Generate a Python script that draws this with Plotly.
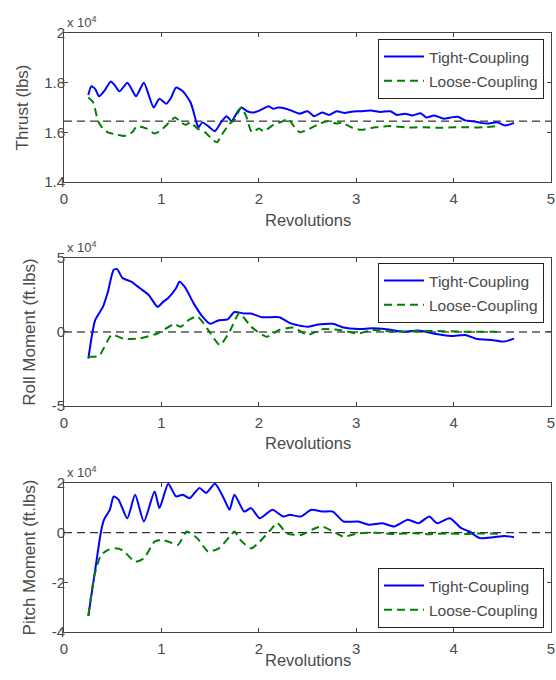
import plotly.graph_objects as go

# ---------------- data (values in units of 10^4) ----------------
thrust_tight_x = [0.25, 0.28, 0.32, 0.36, 0.42, 0.48, 0.52, 0.57, 0.65, 0.70, 0.74, 0.82, 0.87, 0.92, 0.98, 1.05, 1.10, 1.15,
                  1.22, 1.30, 1.36, 1.38, 1.42, 1.48, 1.55, 1.62, 1.67, 1.72, 1.77, 1.82, 1.88, 1.95, 2.02, 2.10, 2.15, 2.20,
                  2.28, 2.35, 2.42, 2.50, 2.57, 2.65, 2.72, 2.80, 2.88, 2.95, 3.05, 3.15, 3.25, 3.35, 3.42, 3.50, 3.58,
                  3.66, 3.72, 3.80, 3.90, 3.97, 4.05, 4.12, 4.20, 4.28, 4.35, 4.45, 4.52, 4.58, 4.62]
thrust_tight_y = [1.75, 1.785, 1.775, 1.745, 1.77, 1.805, 1.79, 1.765, 1.80, 1.77, 1.745, 1.80, 1.75, 1.70, 1.735, 1.715, 1.74, 1.78,
                  1.765, 1.72, 1.64, 1.62, 1.64, 1.625, 1.605, 1.645, 1.665, 1.645, 1.675, 1.70, 1.685, 1.68, 1.69, 1.705, 1.695, 1.70,
                  1.695, 1.685, 1.675, 1.685, 1.665, 1.68, 1.67, 1.685, 1.678, 1.683, 1.685, 1.688, 1.682, 1.685, 1.67, 1.675, 1.668,
                  1.677, 1.66, 1.668, 1.655, 1.66, 1.662, 1.648, 1.645, 1.638, 1.635, 1.64, 1.628, 1.632, 1.638]

thrust_loose_x = [0.25, 0.30, 0.35, 0.40, 0.45, 0.55, 0.62, 0.70, 0.75, 0.85, 0.93, 1.00, 1.08, 1.14, 1.20, 1.25, 1.30, 1.37,
                  1.45, 1.50, 1.57, 1.62, 1.70, 1.75, 1.82, 1.87, 1.93, 2.00, 2.05, 2.15, 2.25, 2.30, 2.35, 2.42, 2.50, 2.60,
                  2.70, 2.80, 2.85, 2.95, 3.05, 3.20, 3.35, 3.50, 3.70, 3.85, 4.00, 4.15, 4.30, 4.45]
thrust_loose_y = [1.74, 1.72, 1.645, 1.615, 1.60, 1.59, 1.585, 1.60, 1.625, 1.615, 1.595, 1.61, 1.64, 1.66, 1.64, 1.63, 1.64, 1.615,
                  1.60, 1.58, 1.56, 1.59, 1.635, 1.65, 1.70, 1.665, 1.60, 1.615, 1.605, 1.63, 1.645, 1.655, 1.63, 1.60, 1.61, 1.63,
                  1.645, 1.635, 1.64, 1.62, 1.61, 1.62, 1.625, 1.62, 1.62, 1.618, 1.62, 1.62, 1.62, 1.625]
thrust_ref = 1.645

roll_tight_x = [0.25, 0.32, 0.40, 0.45, 0.51, 0.545, 0.60, 0.69, 0.78, 0.87, 0.96, 1.02, 1.07, 1.15, 1.185, 1.24, 1.33, 1.42,
                1.50, 1.59, 1.68, 1.75, 1.85, 1.92, 2.03, 2.21, 2.32, 2.50, 2.61, 2.76, 2.87, 3.02, 3.17, 3.31, 3.50, 3.64,
                3.79, 3.97, 4.12, 4.23, 4.41, 4.52, 4.62]
roll_tight_y = [-1.8, 0.8, 1.7, 2.7, 4.2, 4.25, 3.65, 3.4, 2.95, 2.5, 1.7, 2.05, 2.3, 2.95, 3.4, 3.05, 1.95, 1.05,
                0.55, 0.8, 0.85, 1.35, 1.25, 1.25, 1.0, 1.0, 0.6, 0.35, 0.5, 0.55, 0.3, 0.2, 0.25, 0.18, 0.02, 0.1,
                -0.1, -0.27, -0.2, -0.45, -0.55, -0.65, -0.45]

roll_loose_x = [0.25, 0.36, 0.49, 0.62, 0.78, 0.96, 1.13, 1.20, 1.28, 1.37, 1.48, 1.60, 1.70, 1.80, 1.92, 2.08, 2.21, 2.36,
                2.50, 2.65, 2.83, 3.02, 3.17, 3.39, 3.76, 4.12, 4.50]
roll_loose_y = [-1.67, -1.6, -0.2, -0.47, -0.43, -0.1, 0.52, 0.36, 0.81, 1.04, 0.14, -0.88, 0.02, 1.27, 0.36, -0.32, 0.14, 0.29,
                -0.2, 0.18, 0.14, -0.1, 0.14, 0.02, 0.07, 0.02, 0.02]

pitch_tight_x = [0.25, 0.32, 0.38, 0.41, 0.47, 0.51, 0.56, 0.65, 0.73, 0.82, 0.93, 0.98, 1.07, 1.15, 1.22, 1.29, 1.39, 1.46,
                 1.55, 1.64, 1.70, 1.75, 1.85, 1.92, 2.01, 2.14, 2.25, 2.32, 2.43, 2.54, 2.65, 2.76, 2.87, 3.02, 3.13, 3.27,
                 3.39, 3.53, 3.64, 3.75, 3.83, 3.96, 4.08, 4.16, 4.27, 4.41, 4.52, 4.62]
pitch_tight_y = [-3.35, -1.5, 0.05, 0.52, 0.92, 1.46, 1.33, 0.58, 1.53, 0.45, 1.66, 0.99, 1.97, 1.46, 1.53, 1.39, 1.8, 1.6,
                 1.97, 1.39, 0.92, 1.53, 0.85, 0.99, 0.58, 0.92, 0.65, 0.72, 0.65, 0.92, 0.85, 0.85, 0.45, 0.45, 0.32, 0.38,
                 0.25, 0.52, 0.38, 0.65, 0.38, 0.58, 0.18, 0.05, -0.22, -0.18, -0.13, -0.18]

pitch_loose_x = [0.25, 0.31, 0.38, 0.45, 0.52, 0.60, 0.73, 0.82, 0.93, 1.00, 1.07, 1.17, 1.26, 1.37, 1.48, 1.59, 1.70, 1.75,
                 1.81, 1.92, 2.01, 2.12, 2.19, 2.29, 2.43, 2.58, 2.65, 2.76, 2.87, 3.02, 3.20, 3.39, 3.60, 3.75, 3.95, 4.12,
                 4.30, 4.50]
pitch_loose_y = [-3.35, -1.77, -0.9, -0.7, -0.63, -0.7, -1.17, -1.03, -0.36, -0.29, -0.36, -0.49, 0.05, -0.23, -0.76, -0.63, -0.16, 0.05,
                 -0.29, -0.63, -0.36, 0.11, 0.38, -0.03, -0.09, 0.18, 0.25, 0.05, -0.16, -0.03, 0.0, -0.05, -0.02, -0.06, -0.03, -0.05,
                 -0.03, -0.05]

x_ticks = [0, 1, 2, 3, 4, 5]
thrust_ticks = [1.4, 1.6, 1.8, 2.0]
thrust_ticktext = ["1.4", "1.6", "1.8", "2"]
roll_ticks = [-5, 0, 5]
pitch_ticks = [-4, -2, 0, 2]

ylabels = ["Thrust (lbs)", "Roll Moment (ft.lbs)", "Pitch Moment (ft.lbs)"]
xlabel = "Revolutions"
names = ["Tight-Coupling", "Loose-Coupling"]

# ---------------- figure ----------------
BLUE = "#0000ff"
GREEN = "#008000"
FONT = "Liberation Sans"
TXT = "#4a4a4a"

fig = go.Figure()

panels = [
    (thrust_tight_x, thrust_tight_y, thrust_loose_x, thrust_loose_y, thrust_ref),
    (roll_tight_x, roll_tight_y, roll_loose_x, roll_loose_y, 0),
    (pitch_tight_x, pitch_tight_y, pitch_loose_x, pitch_loose_y, 0),
]
legends = ["legend", "legend2", "legend3"]

for i, (tx, ty, lx, ly, ref) in enumerate(panels):
    sfx = "" if i == 0 else str(i + 1)
    xa, ya = "x" + sfx, "y" + sfx
    fig.add_trace(go.Scatter(x=[0, 5], y=[ref, ref], mode="lines", xaxis=xa, yaxis=ya,
                             line=dict(color="black", width=1, dash="8px,5px"), showlegend=False, hoverinfo="skip"))
    fig.add_trace(go.Scatter(x=tx, y=ty, mode="lines", name=names[0], xaxis=xa, yaxis=ya,
                             legendgroup="t%d" % i,
                             line=dict(color=BLUE, width=2, shape="spline", smoothing=0.6), legend=legends[i]))
    fig.add_trace(go.Scatter(x=lx, y=ly, mode="lines", name=names[1], xaxis=xa, yaxis=ya,
                             legendgroup="l%d" % i,
                             line=dict(color=GREEN, width=2, dash="8px,5px", shape="spline", smoothing=0.6),
                             legend=legends[i]))

W, H = 556, 680
ML, MR, MT, MB = 64, 5, 33, 48
domains = [[0.7513, 1.0], [0.3773, 0.6244], [0.0, 0.2487]]
yranges = [[1.4, 2.0], [-5, 5], [-4, 2]]
yticks = [(thrust_ticks, thrust_ticktext), (roll_ticks, [str(v) for v in roll_ticks]),
          (pitch_ticks, [str(v) for v in pitch_ticks])]
xtitle_y = [0.6878, 0.3155, -0.0475]

axis_common = dict(showline=True, linecolor="#444444", linewidth=1, mirror="ticks", ticks="inside",
                   ticklen=4, tickcolor="#444444", showgrid=False, zeroline=False, automargin=False,
                   tickfont=dict(family=FONT, size=15, color=TXT))

layout = dict(width=W, height=H, margin=dict(l=ML, r=MR, t=MT, b=MB),
              plot_bgcolor="white", paper_bgcolor="white", showlegend=True,
              font=dict(family=FONT, color=TXT))

for i in range(3):
    sfx = "" if i == 0 else str(i + 1)
    layout["xaxis" + sfx] = dict(axis_common, domain=[0, 1], range=[0, 5], tickvals=x_ticks,
                                 anchor="y" + sfx, ticklabelstandoff=3)
    layout["yaxis" + sfx] = dict(axis_common, domain=domains[i], range=yranges[i], tickvals=yticks[i][0],
                                 ticktext=yticks[i][1], anchor="x" + sfx, ticklabelstandoff=-5,
                                 title=dict(text=ylabels[i], standoff=11, font=dict(family=FONT, size=17, color=TXT)))

# legend positions (paper coords)
leg_y = [0.99, 0.616, 0.1068]
for i, lg in enumerate(legends):
    layout[lg] = dict(x=0.9856, y=leg_y[i], xanchor="right", yanchor="top", bgcolor="white",
                      bordercolor="#222222", borderwidth=1,
                      font=dict(family=FONT, size=15.5, color=TXT), itemwidth=40,
                      tracegroupgap=1)

fig.update_layout(**layout)

for i in range(3):
    top = domains[i][1]
    # x10^4 multiplier label
    fig.add_annotation(text="x 10<sup>4</sup>", xref="paper", yref="paper", x=0.0, y=top,
                       xanchor="left", yanchor="bottom", showarrow=False, yshift=1, xshift=1,
                       font=dict(family=FONT, size=13, color=TXT))
    # x-axis title
    fig.add_annotation(text=xlabel, xref="paper", yref="paper", x=0.5, y=xtitle_y[i],
                       xanchor="center", yanchor="middle", showarrow=False,
                       font=dict(family=FONT, size=16.5, color=TXT))

fig.write_html("out.html")
